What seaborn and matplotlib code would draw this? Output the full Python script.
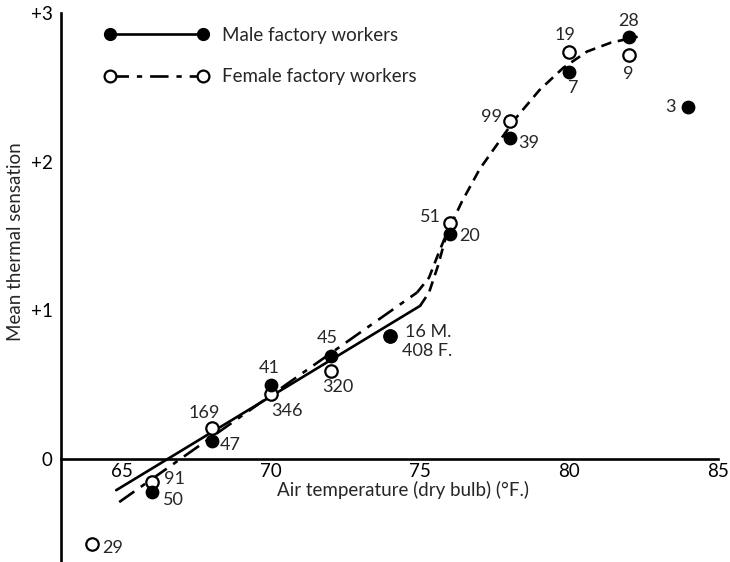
import matplotlib
matplotlib.use("Agg")
import matplotlib.pyplot as plt
import seaborn as sns
import pandas as pd
from matplotlib.lines import Line2D

# ---- data ----
male_temp = [66, 68, 70, 72, 74, 76, 78, 80, 82, 84]
male_sens = [-0.22, 0.12, 0.50, 0.69, 0.83, 1.51, 2.16, 2.60, 2.84, 2.37]
male_n = ["50", "47", "41", "45", "16 M.", "20", "39", "7", "28", "3"]

female_temp = [64, 66, 68, 70, 72, 74, 76, 78, 80, 82]
female_sens = [-0.57, -0.155, 0.21, 0.44, 0.59, 0.83, 1.59, 2.27, 2.74, 2.72]
female_n = ["29", "91", "169", "346", "320", "408 F.", "51", "99", "19", "9"]

# fitted lines
male_fit_x = [64.8, 75.0]
male_fit_y = [-0.21, 1.03]
female_fit_x = [64.9, 74.9]
female_fit_y = [-0.29, 1.12]
curve_x = [75.0, 75.3, 75.6, 75.9, 76.4, 77.0, 77.6, 78.2, 79.0, 79.8, 80.6, 81.4, 82.3]
curve_y = [1.03, 1.12, 1.30, 1.52, 1.73, 1.95, 2.12, 2.29, 2.48, 2.63, 2.74, 2.80, 2.84]
female_join_x = [74.9, 75.3, 75.65, 75.9]
female_join_y = [1.12, 1.22, 1.40, 1.52]

x_ticks = [65, 70, 75, 80, 85]
y_ticks = [0, 1, 2, 3]
y_ticklabels = ["0", "+1", "+2", "+3"]

# label offsets in pixels (dx, dy up)
male_off = [(21, -8), (19, -4), (-2, 17), (-3, 18), (15, 4), (20, -2), (19, -5), (4, -16), (0, 16), (-18, 0)]
male_ha = ["center", "center", "center", "center", "left", "center", "center", "center", "center", "center"]
female_off = [(20, -4), (22, 3), (-7, 15), (16, -17), (7, -16), (12, -15), (-19, 6), (-18, 4), (-4, 17), (0, -19)]
female_ha = ["center", "center", "center", "center", "center", "left", "center", "center", "center", "center"]

sns.set_theme(style="white")
plt.rcParams["font.family"] = ["Lato", "DejaVu Sans"]

fig = plt.figure(figsize=(7.3, 5.62), dpi=100)
ax = fig.add_axes([0, 0, 1, 1])

male_df = pd.DataFrame({"t": male_temp, "s": male_sens})
female_df = pd.DataFrame({"t": female_temp, "s": female_sens})

lw = 1.9
dashdot = (0, (7, 3, 2, 3))
dashed = (0, (4, 2.5))
sns.lineplot(x=male_fit_x, y=male_fit_y, ax=ax, color="black", lw=lw, sort=False, estimator=None)
sns.lineplot(x=female_fit_x, y=female_fit_y, ax=ax, color="black", lw=lw, sort=False,
             estimator=None, linestyle=dashdot)
sns.lineplot(x=curve_x, y=curve_y, ax=ax, color="black", lw=lw, sort=False,
             estimator=None, linestyle=dashed)
sns.lineplot(x=female_join_x, y=female_join_y, ax=ax, color="black", lw=lw, sort=False,
             estimator=None, linestyle=dashed)

sns.scatterplot(data=female_df, x="t", y="s", ax=ax, s=80, facecolor="white",
                edgecolor="black", linewidth=1.6, zorder=3)
sns.scatterplot(data=male_df, x="t", y="s", ax=ax, s=80, color="black",
                edgecolor="black", linewidth=1.0, zorder=4)
ax.set_xlabel("")
ax.set_ylabel("")

fs = 13
for t, s, lab, off, ha in zip(male_temp, male_sens, male_n, male_off, male_ha):
    ax.annotate(lab, (t, s), xytext=off, textcoords="offset pixels", ha=ha,
                va="center", fontsize=fs)
for t, s, lab, off, ha in zip(female_temp, female_sens, female_n, female_off, female_ha):
    ax.annotate(lab, (t, s), xytext=off, textcoords="offset pixels", ha=ha,
                va="center", fontsize=fs)

# axes geometry
ax.set_xlim(60.9, 85.4)
ax.set_ylim(-0.693, 3.087)
for side in ["top", "right"]:
    ax.spines[side].set_visible(False)
ax.spines["left"].set_position(("data", 62.95))
ax.spines["left"].set_bounds(-0.7, 3.0)
ax.spines["bottom"].set_position(("data", 0))
ax.spines["bottom"].set_bounds(62.95, 85)
for side in ["left", "bottom"]:
    ax.spines[side].set_linewidth(1.9)
    ax.spines[side].set_color("black")

ax.set_xticks(x_ticks)
ax.set_xticklabels([str(v) for v in x_ticks])
ax.set_yticks(y_ticks)
ax.set_yticklabels(y_ticklabels)
ax.tick_params(axis="x", direction="in", length=10, width=1.6, pad=3, labelsize=13.5, colors="black")
ax.tick_params(axis="y", direction="in", length=10, width=1.6, pad=6, labelsize=13.5, colors="black")

ax.text(403 / 730, 1 - 490 / 562, "Air temperature (dry bulb) (°F.)", transform=ax.transAxes,
        ha="center", va="center", fontsize=13.5)
ax.text(16 / 730, 1 - 242 / 562, "Mean thermal sensation", transform=ax.transAxes,
        ha="center", va="center", rotation=90, fontsize=13.5)

handles = [
    Line2D([0], [0], color="black", lw=lw, marker="o", markersize=8.5,
           markerfacecolor="black", markeredgecolor="black"),
    Line2D([0], [0], color="black", lw=lw, linestyle=dashdot, marker="o",
           markersize=8.5, markerfacecolor="white", markeredgecolor="black", markeredgewidth=1.6),
]
ax.legend(handles, ["Male factory workers", "Female factory workers"], loc="upper left",
          bbox_to_anchor=(104 / 730, 1 - 27 / 562), frameon=False, numpoints=2,
          handlelength=5.6, handletextpad=0.7, labelspacing=1.3, fontsize=13.5,
          borderpad=0, borderaxespad=0)

fig.savefig("out.png", dpi=100)
